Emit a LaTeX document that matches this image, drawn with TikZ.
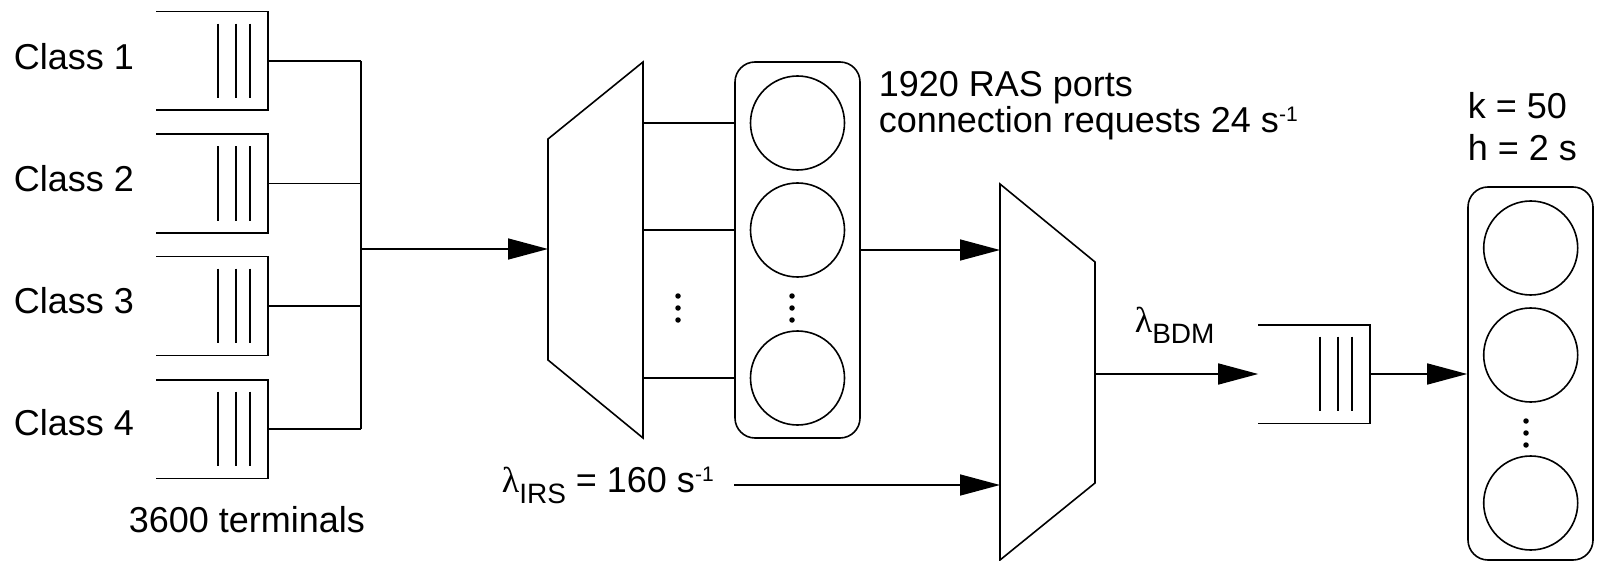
\documentclass[tikz,border=0pt]{standalone}
\usepackage{fontspec}
\setmainfont{Liberation Sans}
\newfontfamily\lamfont{Liberation Serif}
\usetikzlibrary{arrows.meta}
\newcommand\supx[1]{\raisebox{11pt}{\fontsize{21}{21}\selectfont #1}}
\newcommand\subx[1]{\raisebox{-11pt}{\fontsize{28}{28}\selectfont #1}}
\begin{document}
\begin{tikzpicture}[x=1pt,y=-1pt,line width=1.6pt,
  lab/.style={inner sep=0pt,anchor=base west,font=\fontsize{36}{40}\selectfont},
  qbox/.style={minimum width=110pt,minimum height=97pt,inner sep=0pt},
  rbox/.style={draw,rounded corners=20pt,minimum width=125pt,inner sep=0pt},
  srv/.style={draw,circle,minimum size=94pt,inner sep=0pt},
  dot/.style={fill,circle,minimum size=5.5pt,inner sep=0pt},
  arr/.style={-{Triangle[length=40pt,width=21pt]}}]
\useasboundingbox (0,0) rectangle (1600,561);
% left queues
\foreach \n/\y in {q1/61,q2/183.5,q3/306,q4/429} \node[qbox] (\n) at (212,\y) {};
\node[qbox] (q5) at (1314,374) {};
\foreach \n in {q1,q2,q3,q4,q5}{
  \draw (\n.north west) -- (\n.north east) -- (\n.south east) -- (\n.south west);
  \foreach \dx in {-50,-32,-18}
    \draw ([xshift=\dx pt,yshift=-12pt]\n.north east) -- ([xshift=\dx pt,yshift=12pt]\n.south east);
}
\node[lab] (c1) at (13,70) {Class 1};
\node[lab] (c2) at (13,192) {Class 2};
\node[lab] (c3) at (13,313) {Class 3};
\node[lab] (c4) at (13,435) {Class 4};
\node[lab] (term) at (128,532) {3600 terminals};
% bus
\coordinate (bus) at (361,249);
\foreach \n in {q1,q2,q3,q4} \draw (\n.east) -- (\n.east -| bus);
\draw (q1.east -| bus) -- (q4.east -| bus);
% trapezoid 1
\coordinate (t1a) at (548,139);
\coordinate (t1b) at (643,62);
\coordinate (t1c) at (643,438);
\coordinate (t1d) at (548,360);
\draw (t1a) -- (t1b) -- (t1c) -- (t1d) -- cycle;
\draw[arr] (bus) -- (bus -| t1a);
% server box 1
\node[rbox,minimum height=376pt] (b1) at (797.5,250) {};
\node[srv] (s11) at (797.5,123) {};
\node[srv] (s12) at (797.5,230) {};
\node[srv] (s13) at (797.5,378) {};
\foreach \s in {s11,s12,s13} \draw (\s -| t1b) -- (\s -| b1.west);
\foreach \y [count=\i] in {296,308,320}{
  \node[dot] (da\i) at (678,\y) {};
  \node[dot] (db\i) at (792,\y) {};
}
\node[lab] (ras1) at (878,97) {1920 RAS ports};
\node[lab] (ras2) at (878,132.5) {connection requests 24 s\supx{-1}};
% trapezoid 2
\coordinate (t2a) at (1000,184);
\coordinate (t2b) at (1095,262);
\coordinate (t2c) at (1095,483);
\coordinate (t2d) at (1000,560);
\draw (t2a) -- (t2b) -- (t2c) -- (t2d) -- cycle;
\draw[arr] (b1.east) -- (b1.east -| t2a);
\node[lab] (irs) at (501,492) {{\lamfont λ}\subx{IRS} = 160 s\supx{-1}};
\coordinate (irsfrom) at (734,485);
\draw[arr] (irsfrom) -- (irsfrom -| t2a);
\coordinate (t2out) at (1095,374);
\draw[arr] (t2out) -- (q5.west);
\node[lab] (bdm) at (1134,332) {{\lamfont λ}\subx{BDM}};
% server box 2
\node[rbox,minimum height=373pt] (b2) at (1530.5,373.5) {};
\node[srv] (s21) at (1530.7,248) {};
\node[srv] (s22) at (1530.7,355) {};
\node[srv] (s23) at (1530.7,503) {};
\foreach \y [count=\i] in {421,433,445} \node[dot] (dc\i) at (1526,\y) {};
\draw[arr] (q5.east) -- (q5.east -| b2.west);
\node[lab] (k) at (1467,119) {k = 50};
\node[lab] (h) at (1467,161) {h = 2 s};
\end{tikzpicture}
\end{document}
